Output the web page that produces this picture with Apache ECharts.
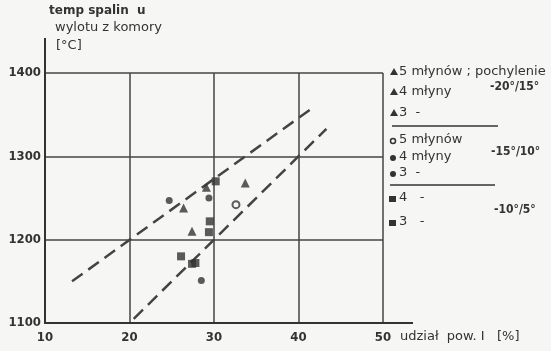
<!DOCTYPE html>
<html>
<head>
<meta charset="utf-8">
<script src="https://cdn.jsdelivr.net/npm/echarts@6/dist/echarts.min.js"></script>
<style>
  html, body { margin: 0; padding: 0; background: #f6f6f4; }
  #main { width: 551px; height: 351px; }
</style>
</head>
<body>
<div id="main"></div>
<script>
// podziałki osi
var xTicks = [10, 20, 30, 40, 50];
var yTicks = [1100, 1200, 1300, 1400];

// trójkąty - pochylenie -20°/15°
var tri5 = [[29.1, 1263], [33.7, 1268]];
var tri4 = [[26.4, 1238]];
var tri3 = [[27.4, 1210]];
// kółka - pochylenie -15°/10°
var circ5 = [[32.6, 1242]];
var circ4 = [[24.7, 1247], [28.5, 1151]];
var circ3 = [[29.4, 1250]];
// kwadraty - pochylenie -10°/5°
var sq4 = [[26.1, 1180], [27.4, 1171], [29.5, 1222]];
var sq3 = [[27.8, 1172], [29.4, 1209], [30.2, 1270]];
// linie przerywane
var lineUpper = [[13.2, 1150], [41.5, 1357]];
var lineLower = [[20.5, 1105], [43.3, 1333]];

// opisy legendy
var legendRows = [
  ['triangle', '5 młynów ; pochylenie'],
  ['triangle', '4 młyny'],
  ['triangle', '3  -'],
  ['ring', '5 młynów'],
  ['circle', '4 młyny'],
  ['circle', '3  -'],
  ['square', '4   -'],
  ['square', '3   -']
];
var slopeLabels = ['-20°/15°', '-15°/10°', '-10°/5°'];

var ink = '#333333';
var font = "'DejaVu Sans', sans-serif";
var narrow = "'DejaVu Sans Condensed', 'DejaVu Sans', sans-serif";

var chart = echarts.init(document.getElementById('main'));

function pts(name, data, symbol, size, hollow) {
  return {
    name: name,
    type: 'scatter',
    data: data,
    symbol: symbol,
    symbolSize: size,
    itemStyle: hollow ? { color: '#f6f6f4', borderColor: ink, borderWidth: 2 } : { color: ink },
    z: 5
  };
}

function dashed(data) {
  return {
    type: 'line',
    data: data,
    symbol: 'none',
    lineStyle: { color: '#444444', width: 2.5, type: [13, 7] },
    z: 4
  };
}

var option = {
  backgroundColor: '#f6f6f4',
  animation: false,
  grid: { left: 45, right: 168, top: 73, bottom: 28, outerBoundsMode: 'none' },
  xAxis: {
    type: 'value',
    min: xTicks[0],
    max: xTicks[xTicks.length - 1],
    interval: 10,
    axisLine: { lineStyle: { color: ink, width: 2 } },
    axisTick: { show: false },
    axisLabel: { color: ink, fontSize: 13, fontWeight: 'bold', fontFamily: narrow, margin: 8 },
    splitLine: { lineStyle: { color: '#454545', width: 1.5 } }
  },
  yAxis: {
    type: 'value',
    min: yTicks[0],
    max: yTicks[yTicks.length - 1],
    interval: 100,
    axisLine: { show: true, lineStyle: { color: ink, width: 2 } },
    axisTick: { show: false },
    axisLabel: {
      color: ink, fontSize: 13, fontWeight: 'bold', fontFamily: narrow, margin: 4,
      formatter: function (v) { return String(v); }
    },
    splitLine: { lineStyle: { color: '#454545', width: 1.5 } }
  },
  series: [
    dashed(lineUpper),
    dashed(lineLower),
    pts('tri5', tri5, 'triangle', 9),
    pts('tri4', tri4, 'triangle', 9),
    pts('tri3', tri3, 'triangle', 9),
    pts('circ5', circ5, 'circle', 7, true),
    pts('circ4', circ4, 'circle', 7),
    pts('circ3', circ3, 'circle', 7),
    pts('sq4', sq4, 'rect', 8),
    pts('sq3', sq3, 'rect', 8)
  ]
};
chart.setOption(option);

// przedłużenia osi i opisy
var corner = chart.convertToPixel({ gridIndex: 0 }, [xTicks[xTicks.length - 1], yTicks[0]]);
var topLeft = chart.convertToPixel({ gridIndex: 0 }, [xTicks[0], yTicks[yTicks.length - 1]]);

var graphics = [
  { type: 'line', shape: { x1: corner[0], y1: corner[1], x2: corner[0] + 30, y2: corner[1] },
    style: { stroke: ink, lineWidth: 2 } },
  { type: 'line', shape: { x1: topLeft[0], y1: topLeft[1], x2: topLeft[0], y2: topLeft[1] - 35 },
    style: { stroke: ink, lineWidth: 2 } },
  { type: 'text', left: 49, top: 5, style: { text: 'temp spalin  u', fill: ink, font: 'bold 12px ' + font } },
  { type: 'text', left: 55, top: 21, style: { text: 'wylotu z komory', fill: ink, font: '13px ' + font } },
  { type: 'text', left: 56, top: 39, style: { text: '[°C]', fill: ink, font: '13px ' + font } },
  { type: 'text', left: 400, top: 330, style: { text: 'udział  pow. I   [%]', fill: ink, font: '13px ' + font } }
];

var rowY = [72, 92, 113, 140, 157, 173, 198, 222];
legendRows.forEach(function (row, i) {
  var y = rowY[i];
  var mark;
  if (row[0] === 'triangle') {
    mark = { type: 'polygon', shape: { points: [[390, y + 3], [398, y + 3], [394, y - 4]] }, style: { fill: ink } };
  } else if (row[0] === 'ring') {
    mark = { type: 'circle', shape: { cx: 393, cy: y + 1, r: 2.5 }, style: { fill: '#f6f6f4', stroke: ink, lineWidth: 1.5 } };
  } else if (row[0] === 'circle') {
    mark = { type: 'circle', shape: { cx: 393, cy: y + 1, r: 3 }, style: { fill: ink } };
  } else {
    mark = { type: 'rect', shape: { x: 389, y: y - 2, width: 7, height: 6 }, style: { fill: ink } };
  }
  graphics.push(mark);
  graphics.push({ type: 'text', x: 399, y: y, style: { text: row[1], fill: ink, font: '13px ' + font, verticalAlign: 'middle' } });
});
graphics.push({ type: 'line', shape: { x1: 392, y1: 126, x2: 498, y2: 126 }, style: { stroke: ink, lineWidth: 1.5 } });
graphics.push({ type: 'line', shape: { x1: 390, y1: 185, x2: 495, y2: 185 }, style: { stroke: ink, lineWidth: 1.5 } });
[[490, 87], [491, 152], [494, 210]].forEach(function (p, i) {
  graphics.push({ type: 'text', x: p[0], y: p[1], style: { text: slopeLabels[i], fill: ink, font: 'bold 12px ' + narrow, verticalAlign: 'middle' } });
});

chart.setOption({ graphic: graphics });
</script>
</body>
</html>
